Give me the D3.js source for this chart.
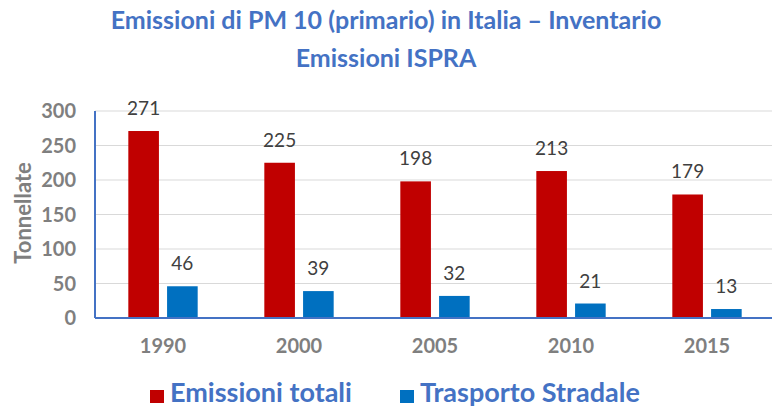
<!DOCTYPE html>
<html>
<head>
<meta charset="utf-8">
<script src="https://cdn.jsdelivr.net/npm/d3@7"></script>
<style>
  body { margin: 0; background: #fff; }
  svg { display: block; }
</style>
</head>
<body>
<svg id="chart"></svg>
<script>
// --- Data ---
const years = ["1990", "2000", "2005", "2010", "2015"];
const seriesNames = ["Emissioni totali", "Trasporto Stradale"];
const emissioniTotali = [271, 225, 198, 213, 179];
const trasportoStradale = [46, 39, 32, 21, 13];
const yTicks = [0, 50, 100, 150, 200, 250, 300];
const titleLines = ["Emissioni di PM 10 (primario) in Italia \u2013 Inventario", "Emissioni ISPRA"];

const width = 772, height = 409;
const fontFamily = "Lato, 'Open Sans', sans-serif";
const blue = "#4472c4";
const colors = ["#c00000", "#0070c0"];

const svg = d3.select("#chart").attr("width", width).attr("height", height);

const rows = years.map((y, i) => ({ year: y, values: [emissioniTotali[i], trasportoStradale[i]] }));

// --- Scales ---
const x0 = d3.scaleBand().domain(years).range([95, 775]).paddingInner(0.49).paddingOuter(0.245);
const x1 = d3.scaleBand().domain([0, 1]).range([0, x0.bandwidth()]).paddingInner(0.21);
const y = d3.scaleLinear().domain([0, 300]).range([318, 111]);

// --- Title ---
svg.append("g").selectAll("text")
  .data(titleLines)
  .join("text")
  .attr("x", 386)
  .attr("y", (d, i) => 29 + i * 38)
  .attr("text-anchor", "middle")
  .attr("fill", blue)
  .attr("font-family", fontFamily)
  .attr("font-weight", "bold")
  .attr("font-size", 25)
  .text(d => d);

// --- Gridlines ---
svg.append("g").selectAll("line")
  .data(yTicks.slice(1))
  .join("line")
  .attr("x1", 95).attr("x2", width)
  .attr("y1", d => y(d)).attr("y2", d => y(d))
  .attr("stroke", "#d9d9d9")
  .attr("stroke-width", 1);

// --- Y tick labels ---
svg.append("g").selectAll("text")
  .data(yTicks)
  .join("text")
  .attr("x", 76)
  .attr("y", d => y(d))
  .attr("dy", "0.36em")
  .attr("text-anchor", "end")
  .attr("fill", "#7f7f7f")
  .attr("font-family", fontFamily)
  .attr("font-weight", "bold")
  .attr("font-size", 20)
  .text(d => d);

svg.append("text")
  .attr("transform", "translate(31,213) rotate(-90)")
  .attr("text-anchor", "middle")
  .attr("fill", "#7f7f7f")
  .attr("font-family", fontFamily)
  .attr("font-weight", "bold")
  .attr("font-size", 22)
  .text("Tonnellate");

// --- Bars ---
const groups = svg.append("g").selectAll("g")
  .data(rows)
  .join("g")
  .attr("transform", d => `translate(${x0(d.year)},0)`);

groups.selectAll("rect")
  .data(d => d.values.map((v, k) => ({ k, v })))
  .join("rect")
  .attr("x", d => x1(d.k))
  .attr("width", x1.bandwidth())
  .attr("y", d => y(d.v))
  .attr("height", d => y(0) - y(d.v))
  .attr("fill", d => colors[d.k]);

groups.selectAll("text")
  .data(d => d.values.map((v, k) => ({ k, v })))
  .join("text")
  .attr("x", d => x1(d.k) + x1.bandwidth() / 2)
  .attr("y", d => y(d.v) - 16)
  .attr("text-anchor", "middle")
  .attr("fill", "#404040")
  .attr("font-family", fontFamily)
  .attr("font-size", 19)
  .text(d => d.v);

// --- Axes lines ---
svg.append("line")
  .attr("x1", 95).attr("x2", 95)
  .attr("y1", y(300)).attr("y2", y(0))
  .attr("stroke", blue).attr("stroke-width", 2);
svg.append("line")
  .attr("x1", 95).attr("x2", width)
  .attr("y1", y(0)).attr("y2", y(0))
  .attr("stroke", blue).attr("stroke-width", 2);

// --- X tick labels ---
svg.append("g").selectAll("text")
  .data(years)
  .join("text")
  .attr("x", d => x0(d) + x0.bandwidth() / 2)
  .attr("y", 353)
  .attr("text-anchor", "middle")
  .attr("fill", "#7f7f7f")
  .attr("font-family", fontFamily)
  .attr("font-weight", "bold")
  .attr("font-size", 20)
  .text(d => d);

// --- Legend ---
const legendX = [150, 400];
const legend = svg.append("g").selectAll("g")
  .data(seriesNames)
  .join("g")
  .attr("transform", (d, i) => `translate(${legendX[i]},0)`);
legend.append("rect")
  .attr("x", 0).attr("y", 390)
  .attr("width", 14).attr("height", 13)
  .attr("fill", (d, i) => colors[i]);
legend.append("text")
  .attr("x", 20).attr("y", 402)
  .attr("fill", blue)
  .attr("font-family", fontFamily)
  .attr("font-weight", "bold")
  .attr("font-size", 27)
  .text(d => d);
</script>
</body>
</html>
